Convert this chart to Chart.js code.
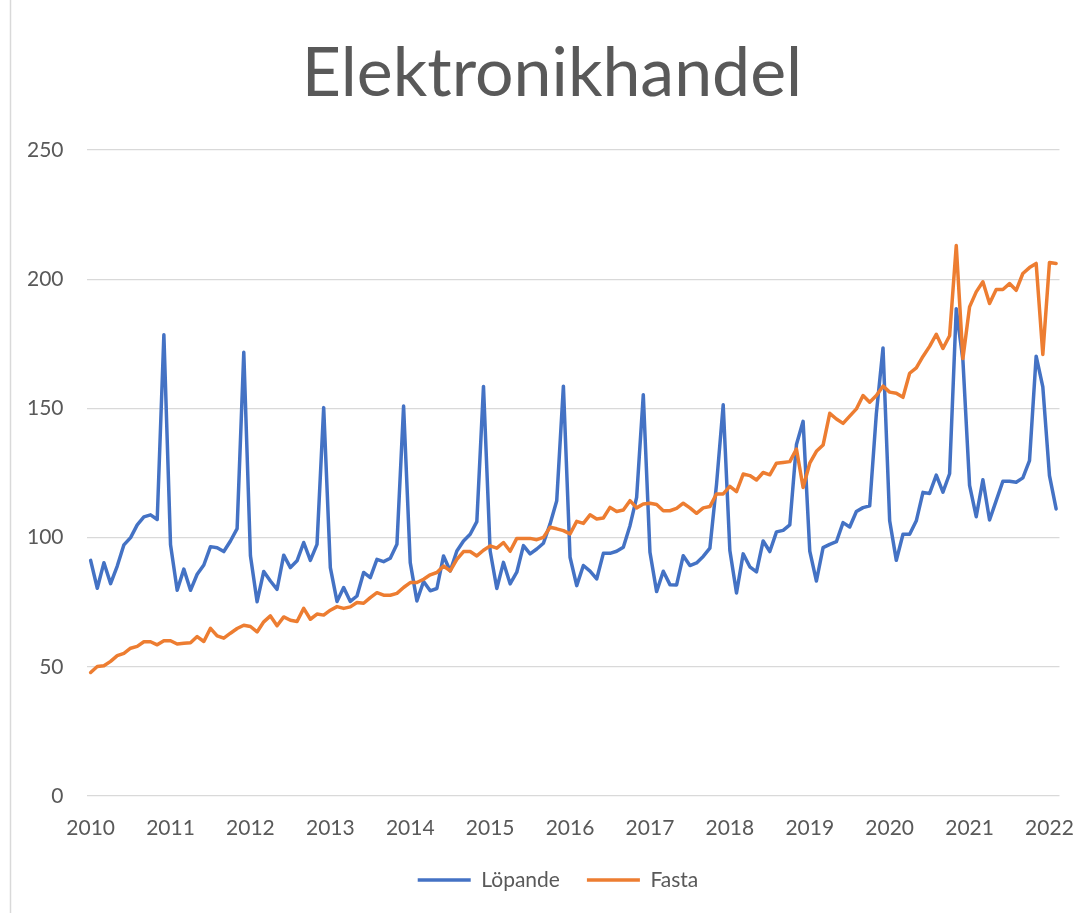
<!DOCTYPE html>
<html>
<head>
<meta charset="utf-8">
<script src="https://cdn.jsdelivr.net/npm/chart.js@4"></script>
<style>
  html, body { margin: 0; padding: 0; background: #fff; }
  #wrap { width: 1086px; height: 913px; }
</style>
</head>
<body>
<div id="wrap"><canvas id="chart" width="1086" height="913"></canvas></div>
<script>
// ==================== DATA ====================
// monthly values, Jan 2010 .. Feb 2022
const lopande = [
  91.2, 80.4, 90.3, 82.2, 89.0, 97.2, 100.0, 104.9, 108.0, 108.8, 107.0, 178.5,
  97.2, 79.6, 87.8, 79.6, 85.8, 89.4, 96.5, 96.1, 94.6, 98.7, 103.5, 171.7,
  93.0, 75.2, 86.9, 83.2, 80.0, 93.2, 88.4, 91.0, 98.1, 91.2, 97.4, 150.3,
  88.4, 75.3, 80.7, 75.3, 77.4, 86.5, 84.5, 91.6, 90.7, 92.0, 97.4, 150.9,
  90.3, 75.5, 83.0, 79.4, 80.3, 92.9, 87.1, 94.8, 98.7, 101.3, 106.2, 158.5,
  94.8, 80.3, 90.4, 82.1, 86.6, 96.9, 93.7, 95.6, 97.8, 105.3, 114.3, 158.6,
  92.4, 81.4, 89.2, 87.0, 84.0, 93.9, 93.9, 94.7, 96.3, 104.6, 115.6, 155.3,
  94.3, 79.1, 87.0, 81.8, 81.7, 93.0, 89.2, 90.2, 92.7, 95.9, 120.7, 151.4,
  95.0, 78.6, 93.7, 88.7, 86.7, 98.7, 94.6, 102.2, 102.8, 104.9, 136.0, 145.0,
  94.8, 83.2, 96.1, 97.4, 98.4, 105.8, 104.1, 110.1, 111.6, 112.3, 148.0, 173.4,
  106.5, 91.2, 101.3, 101.3, 106.5, 117.5, 117.1, 124.2, 117.6, 124.7, 188.6, 168.6,
  120.2, 108.1, 122.4, 106.8, 114.3, 121.8, 121.8, 121.4, 123.1, 129.8, 170.2, 158.3,
  124.0, 111.1
];
const fasta = [
  47.8, 50.1, 50.4, 52.1, 54.3, 55.2, 57.2, 57.9, 59.7, 59.7, 58.5, 60.1,
  60.1, 58.8, 59.1, 59.3, 61.7, 59.8, 64.9, 62.0, 61.1, 63.0, 64.8, 66.1,
  65.6, 63.5, 67.4, 69.7, 65.9, 69.3, 68.0, 67.5, 72.6, 68.4, 70.4, 70.0,
  71.9, 73.3, 72.6, 73.2, 74.9, 74.6, 76.8, 78.7, 77.7, 77.7, 78.4, 80.7,
  82.6, 82.6, 83.9, 85.6, 86.5, 89.0, 87.1, 91.6, 94.6, 94.6, 92.9, 95.1,
  96.8, 95.9, 98.1, 94.7, 99.7, 99.7, 99.7, 99.2, 100.1, 104.0, 103.4, 102.7,
  101.4, 106.3, 105.5, 108.8, 107.2, 107.6, 111.7, 110.1, 110.7, 114.3, 111.5, 113.0,
  113.3, 112.8, 110.4, 110.4, 111.3, 113.3, 111.5, 109.4, 111.5, 112.0, 116.9, 116.9,
  119.8, 117.8, 124.6, 124.0, 122.3, 125.2, 124.3, 128.8, 129.1, 129.4, 134.3, 119.4,
  128.8, 133.4, 135.8, 148.1, 145.9, 144.2, 147.0, 149.8, 155.0, 152.4, 155.0, 158.6,
  156.3, 155.9, 154.3, 163.6, 165.7, 170.1, 174.0, 178.7, 173.2, 178.1, 213.0, 169.3,
  189.3, 195.1, 199.0, 190.6, 196.0, 196.0, 198.3, 195.7, 202.2, 204.5, 206.1, 170.9,
  206.5, 206.1
];
const yearLabels = ['2010', '2011', '2012', '2013', '2014', '2015', '2016',
                    '2017', '2018', '2019', '2020', '2021', '2022'];
const yearTicks = yearLabels.map((_, i) => i * 12); // month index of each January

const TEXT = '#595959';
const GRID = '#d9d9d9';

// thin frame line on the left, like the Excel chart border
const frameLine = {
  id: 'frameLine',
  beforeDraw(chart) {
    const c = chart.ctx;
    c.save();
    c.strokeStyle = GRID;
    c.lineWidth = 1.5;
    c.beginPath();
    c.moveTo(10.5, 0);
    c.lineTo(10.5, chart.height);
    c.stroke();
    c.restore();
  }
};

// nudge title and legend a bit right, Excel centres them differently
const nudge = {
  id: 'nudge',
  afterLayout(chart) {
    if (chart.titleBlock) chart.titleBlock.left += 14;
    if (chart.legend) chart.legend.left += 26;
  }
};

function toPoints(arr) {
  return arr.map((v, i) => ({ x: i, y: v }));
}

const ctx = document.getElementById('chart').getContext('2d');
new Chart(ctx, {
  type: 'line',
  data: {
    datasets: [{
      label: 'Löpande',
      data: toPoints(lopande),
      borderColor: '#4472C4',
      backgroundColor: '#4472C4',
      borderWidth: 3.5,
      pointRadius: 0,
      tension: 0,
      borderJoinStyle: 'round',
      borderCapStyle: 'round',
      order: 2
    }, {
      label: 'Fasta',
      data: toPoints(fasta),
      borderColor: '#ED7D31',
      backgroundColor: '#ED7D31',
      borderWidth: 3.5,
      pointRadius: 0,
      tension: 0,
      borderJoinStyle: 'round',
      borderCapStyle: 'round',
      order: 1
    }]
  },
  options: {
    responsive: false,
    animation: false,
    layout: { padding: { left: 20, right: 16, top: 0, bottom: 12.5 } },
    plugins: {
      title: {
        display: true,
        text: 'Elektronikhandel',
        color: TEXT,
        font: { family: 'Lato', size: 68, weight: 'normal' },
        padding: { top: 33, bottom: 35.4 }
      },
      legend: {
        position: 'bottom',
        labels: {
          color: TEXT,
          font: { family: 'Lato', size: 21 },
          usePointStyle: true,
          pointStyle: 'line',
          pointStyleWidth: 53,
          padding: 27,
          sort: (a, b) => a.datasetIndex - b.datasetIndex
        }
      },
      tooltip: { enabled: false }
    },
    scales: {
      x: {
        type: 'linear',
        min: -0.62,
        max: 145.5,
        grid: { display: false },
        border: { display: false },
        afterBuildTicks: s => { s.ticks = yearTicks.map(v => ({ value: v })); },
        afterFit: s => { s.height = 46.5; },
        ticks: {
          autoSkip: false,
          maxRotation: 0,
          padding: 12,
          color: TEXT,
          font: { family: 'Lato', size: 21 },
          callback: v => yearLabels[yearTicks.indexOf(v)]
        }
      },
      y: {
        min: 0,
        max: 250,
        grid: { color: GRID, lineWidth: 1.3, drawTicks: false },
        border: { display: false },
        afterFit: s => { s.width = 66.5; },
        ticks: {
          stepSize: 50,
          padding: 23,
          color: TEXT,
          font: { family: 'Lato', size: 21 }
        }
      }
    }
  },
  plugins: [frameLine, nudge]
});
</script>
</body>
</html>
